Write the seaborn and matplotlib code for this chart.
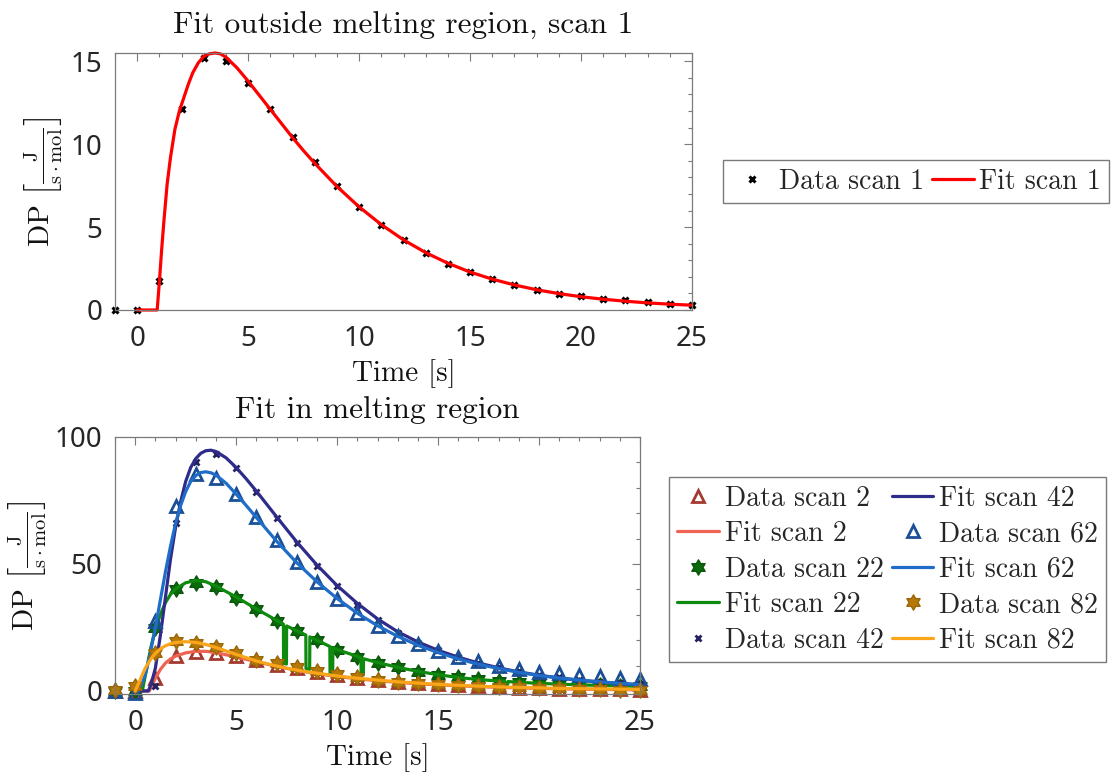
import numpy as np
import matplotlib
matplotlib.use("Agg")
import matplotlib.pyplot as plt
import seaborn as sns
from matplotlib.ticker import MultipleLocator
from matplotlib.path import Path

# ---------------- data ----------------
time = list(range(-1, 26))

# top panel: scan 1
data_scan1 = [0, 0, 1.72, 12.1, 15.2, 15.0, 13.7, 12.1, 10.45, 8.9, 7.48, 6.24, 5.15,
              4.21, 3.45, 2.79, 2.27, 1.84, 1.5, 1.22, 0.98, 0.82, 0.68, 0.58, 0.48, 0.38, 0.3]
fit1_t = [0, 0.9, 1.0, 1.1, 1.2, 1.35, 1.5, 1.7, 1.9, 2.1, 2.3, 2.5, 2.75, 3.0, 3.25, 3.5,
          3.75, 4.0, 4.5, 5.0, 5.5, 6, 6.5, 7, 7.5, 8, 9, 10, 11, 12, 13, 14, 15, 16, 17,
          18, 19, 20, 21, 22, 23, 24, 25]
fit1_y = [0, 0, 1.7, 3.6, 5.3, 7.6, 9.2, 10.9, 12.0, 12.8, 13.6, 14.3, 14.9, 15.3, 15.45,
          15.5, 15.45, 15.25, 14.6, 13.8, 12.95, 12.1, 11.25, 10.4, 9.6, 8.85, 7.45, 6.22,
          5.15, 4.23, 3.46, 2.82, 2.29, 1.86, 1.51, 1.22, 0.99, 0.8, 0.65, 0.53, 0.43, 0.35, 0.29]

# bottom panel: melting region scans
data_scan2 = [0, 0, 5.0, 13.6, 15.5, 15.0, 13.6, 12.0, 10.3, 8.9, 7.6, 6.3, 5.2, 4.4, 3.7,
              3.1, 2.6, 2.2, 1.8, 1.5, 1.3, 1.1, 0.9, 0.8, 0.7, 0.6, 0.5]
data_scan22 = [0, 0, 24.8, 40.1, 42.5, 40.8, 36.7, 32.1, 27.6, 23.5, 19.9, 16.2, 13.5, 11.2,
               9.3, 7.6, 6.3, 5.3, 4.6, 4.0, 3.5, 3.0, 2.7, 2.4, 2.2, 2.0, 1.8]
data_scan42 = [0, 0, 2.0, 66.3, 90.0, 93.3, 87.7, 78.5, 68.2, 58.4, 49.1, 41.2, 34.0, 27.8,
               22.8, 19.0, 16.0, 13.4, 11.2, 9.3, 7.7, 6.4, 5.3, 4.4, 3.7, 3.1, 2.6]
data_scan62 = [0, -0.9, 27.4, 72.8, 85.3, 84.0, 77.4, 68.6, 59.6, 50.7, 42.8, 36.2, 30.5,
               25.7, 21.7, 18.6, 15.9, 13.3, 11.6, 10.0, 8.6, 7.6, 7.0, 6.3, 5.7, 5.1, 4.6]
data_scan82 = [0.4, 2.0, 14.9, 19.5, 18.8, 17.5, 14.9, 12.3, 10.9, 9.3, 8.0, 6.6, 5.4, 4.4,
               3.7, 3.2, 2.8, 2.4, 2.0, 1.7, 1.4, 1.2, 1.0, 0.8, 0.6, 0.5, 0.4]

fit2_t = [0, 0.7, 0.85, 1.0, 1.25, 1.5, 1.75, 2.0, 2.5, 3.0, 3.5, 4.0, 5, 6, 7, 8, 9, 10,
          11, 12, 13, 14, 15, 16, 17, 18, 19, 20, 21, 22, 23, 24, 25]
fit2_y = [0, 0, 2.5, 5.0, 8.5, 11.0, 12.6, 13.7, 15.0, 15.6, 15.6, 15.1, 13.4, 11.5, 9.7,
          8.1, 6.8, 5.7, 4.8, 4.0, 3.4, 2.8, 2.4, 2.0, 1.7, 1.4, 1.2, 1.0, 0.85, 0.7, 0.6,
          0.5, 0.45]

fit22_t = [0, 0.35, 0.5, 0.65, 0.8, 1.0, 1.25, 1.5, 1.75, 2.0, 2.5, 3.0, 3.5, 4.0, 5.0, 6.0,
           7.0, 7.34, 7.35, 7.49, 7.5, 8.0, 8.45, 8.46, 8.64, 8.65, 9.0, 9.64, 9.65, 9.78,
           9.79, 10, 11, 11.18, 11.19, 11.3, 11.31, 12, 13, 14, 15, 16, 17, 18, 18.3, 18.31,
           18.45, 18.46, 19, 20, 21, 22, 23, 24, 25]
fit22_y = [0, 0, 6, 12, 18, 24.3, 30.2, 34.8, 38.0, 40.2, 42.6, 43.5, 43.0, 41.3, 37.0, 32.3,
           27.8, 26.3, 10.9, 10.6, 25.6, 23.7, 22.0, 8.8, 8.5, 21.3, 20.0, 17.5, 7.0, 6.8,
           17.0, 16.3, 13.6, 13.0, 6.4, 6.3, 12.7, 11.2, 9.3, 7.7, 6.4, 5.3, 4.5, 3.9, 3.8,
           2.6, 2.6, 3.7, 3.4, 3.0, 2.7, 2.4, 2.2, 2.0, 1.8]

fit42_t = [0, 0.65, 0.8, 1.0, 1.25, 1.5, 1.75, 2.0, 2.25, 2.5, 2.75, 3.0, 3.25, 3.5, 3.75,
           4.0, 4.5, 5, 5.5, 6, 7, 8, 9, 10, 11, 12, 13, 14, 15, 16, 17, 18, 19, 20, 21, 22,
           23, 24, 25]
fit42_y = [0, 0, 3, 9, 22, 37, 52, 64.5, 74.5, 82.5, 88, 91.5, 93.6, 94.6, 94.8, 94.3, 91.8,
           88.0, 83.5, 78.7, 68.6, 58.7, 49.6, 41.5, 34.5, 28.4, 23.3, 19.3, 16.0, 13.3,
           11.0, 9.1, 7.5, 6.2, 5.1, 4.2, 3.5, 2.9, 2.4]

fit62_t = [0, 0.15, 0.35, 0.55, 0.75, 1.0, 1.25, 1.5, 1.75, 2.0, 2.25, 2.5, 2.75, 3.0, 3.25,
           3.5, 3.75, 4.0, 4.5, 5, 5.5, 6, 7, 8, 9, 10, 11, 12, 13, 14, 15, 16, 17, 18, 19,
           20, 21, 22, 23, 24, 25]
fit62_y = [0, 0, 3, 8, 15, 25, 36, 47, 57, 66, 73, 78.5, 82.5, 84.8, 86.0, 86.3, 85.9, 85.0,
           81.8, 77.5, 73.0, 68.3, 59.0, 50.5, 43.0, 36.4, 30.6, 25.7, 21.5, 18.0, 15.1,
           12.6, 10.5, 8.8, 7.3, 6.1, 5.1, 4.3, 3.6, 3.0, 2.5]

fit82_t = [0, 0.25, 0.5, 0.75, 1.0, 1.25, 1.5, 1.75, 2.0, 2.5, 3.0, 3.5, 4.0, 5, 6, 7, 8, 9,
           10, 11, 12, 13, 14, 15, 16, 17, 18, 19, 20, 21, 22, 23, 24, 25]
fit82_y = [0, 4.5, 9.0, 12.3, 14.8, 16.6, 17.8, 18.6, 19.1, 19.4, 19.1, 18.3, 17.1, 14.4,
           11.8, 9.8, 8.2, 7.0, 5.9, 5.0, 4.3, 3.6, 3.1, 2.6, 2.2, 1.9, 1.6, 1.4, 1.2, 1.0,
           0.9, 0.8, 0.7, 0.6]

labels_top = ["Data scan 1", "Fit scan 1"]
labels_bottom = ["Data scan 2", "Fit scan 2", "Data scan 22", "Fit scan 22", "Data scan 42",
                 "Fit scan 42", "Data scan 62", "Fit scan 62", "Data scan 82", "Fit scan 82"]
title_top = "Fit outside melting region, scan 1"
title_bottom = "Fit in melting region"
xlabel = "Time [s]"
ylabel = r"$\mathrm{DP}\ \left[\frac{\mathrm{J}}{\mathrm{s\cdot mol}}\right]$"

# ---------------- style ----------------
sns.set_theme(style="white")
plt.rcParams['font.family'] = ['Noto Sans', 'DejaVu Sans']
plt.rcParams['mathtext.fontset'] = 'cm'
plt.rcParams['axes.unicode_minus'] = False

SERIF = 'cmr10'
SPINE = '#7a7a7a'
W, H = 1111, 772
LEG_FS = 20

# hexagram marker
ang_o = np.deg2rad(90 + 60 * np.arange(6))
ang_i = ang_o + np.deg2rad(30)
hex_verts = []
for a, b in zip(ang_o, ang_i):
    hex_verts.append((np.cos(a), np.sin(a)))
    hex_verts.append((np.cos(b) / np.sqrt(3), np.sin(b) / np.sqrt(3)))
hex_verts.append(hex_verts[0])
HEX = Path(hex_verts, closed=True)

fig = plt.figure(figsize=(W / 100, H / 100), dpi=100)
ax1 = fig.add_axes([115 / W, 1 - 310 / H, 577 / W, 257 / H])
ax2 = fig.add_axes([115 / W, 1 - 694 / H, 525 / W, 257 / H])


def style_axes(ax, xlim, ylim, ymaj, ymin):
    ax.set_xlim(*xlim)
    ax.set_ylim(*ylim)
    ax.xaxis.set_major_locator(MultipleLocator(5))
    ax.xaxis.set_minor_locator(MultipleLocator(1))
    ax.yaxis.set_major_locator(MultipleLocator(ymaj))
    ax.yaxis.set_minor_locator(MultipleLocator(ymin))
    ax.tick_params(which='both', direction='in', top=True, right=True, color=SPINE,
                   width=0.8, labelsize=20, labelcolor='#262626')
    ax.tick_params(which='major', length=6)
    ax.tick_params(which='minor', length=3)
    ax.tick_params(axis='x', which='major', pad=11)
    ax.tick_params(axis='y', which='major', pad=9)
    for s in ax.spines.values():
        s.set_color(SPINE)
        s.set_linewidth(0.9)
    ax.set_xlabel(xlabel, family=SERIF, fontsize=21, labelpad=4, color='#111111')
    ax.set_ylabel(ylabel, fontsize=21, labelpad=4, color='#111111')
    ax.grid(False)


def add_legend(handles, labels, x, y):
    fig.legend(handles, labels, loc='upper left', bbox_to_anchor=(x / W, 1 - y / H), ncol=2,
               frameon=True, fancybox=False, edgecolor=SPINE, framealpha=1,
               prop={'family': SERIF, 'size': LEG_FS}, handlelength=1.5,
               handletextpad=0.2, columnspacing=0.3, borderaxespad=0, borderpad=0.3,
               labelspacing=0.33)


# ---------------- top panel ----------------
sns.lineplot(x=time, y=data_scan1, ax=ax1, color='black', marker='x', linestyle='',
             markersize=5, markeredgewidth=2.2, markeredgecolor='black',
             label=labels_top[0], legend=False, estimator=None, sort=False)
sns.lineplot(x=fit1_t, y=fit1_y, ax=ax1, color='#ff0000', linewidth=2.3,
             label=labels_top[1], legend=False, estimator=None, sort=False)
style_axes(ax1, (-1, 25), (0, 15.5), 5, 1)
ax1.set_title(title_top, family=SERIF, fontsize=22.5, pad=14, color='#111111')
for c in ax1.lines:
    c.set_clip_on(False)

h1, l1 = ax1.get_legend_handles_labels()
add_legend(h1, l1, 723, 160)

# ---------------- bottom panel ----------------
series = [
    ("data", time, data_scan2, dict(marker='^', markersize=8, markerfacecolor='none',
                                    markeredgecolor='#a33a30', markeredgewidth=2,
                                    color='#a33a30')),
    ("fit", fit2_t, fit2_y, dict(color='#ee6352')),
    ("data", time, data_scan22, dict(marker=HEX, markersize=11, markerfacecolor='#0b6a0b',
                                     markeredgecolor='#0a560a', markeredgewidth=1,
                                     color='#0b6a0b')),
    ("fit", fit22_t, fit22_y, dict(color='#0e8a0e')),
    ("data", time, data_scan42, dict(marker='x', markersize=5, markeredgecolor='#25235f',
                                     markeredgewidth=2, color='#25235f')),
    ("fit", fit42_t, fit42_y, dict(color='#2e2b8a')),
    ("data", time, data_scan62, dict(marker='^', markersize=8, markerfacecolor='none',
                                     markeredgecolor='#1b4f95', markeredgewidth=2,
                                     color='#1b4f95')),
    ("fit", fit62_t, fit62_y, dict(color='#1f6dc8')),
    ("data", time, data_scan82, dict(marker=HEX, markersize=11, markerfacecolor='#b5790a',
                                     markeredgecolor='#9a6606', markeredgewidth=1,
                                     color='#b5790a')),
    ("fit", fit82_t, fit82_y, dict(color='#fba51a')),
]
for (kind, xs, ys, kw), lab in zip(series, labels_bottom):
    if kind == "data":
        sns.lineplot(x=xs, y=ys, ax=ax2, linestyle='', label=lab, legend=False,
                     estimator=None, sort=False, **kw)
    else:
        sns.lineplot(x=xs, y=ys, ax=ax2, linewidth=2.3, label=lab, legend=False,
                     estimator=None, sort=False, **kw)
style_axes(ax2, (-1, 25), (-1.2, 100), 50, 10)
ax2.set_title(title_bottom, family=SERIF, fontsize=22.5, pad=14, color='#111111')
for c in ax2.lines:
    c.set_clip_on(False)

h2, l2 = ax2.get_legend_handles_labels()
add_legend(h2, l2, 669, 477)

fig.savefig("out.png", dpi=100)
